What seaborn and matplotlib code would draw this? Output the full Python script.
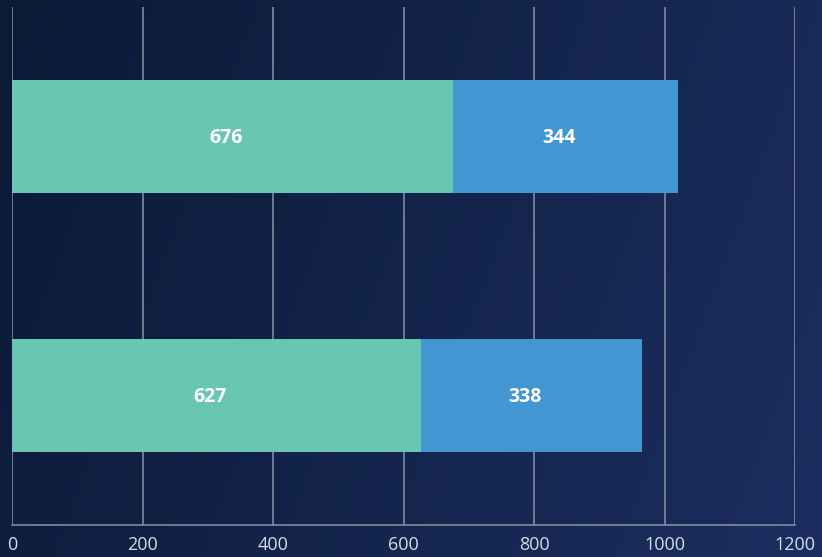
import numpy as np
import pandas as pd
import matplotlib.pyplot as plt
import matplotlib.transforms as mtrans
import seaborn as sns

# Data
categories = ['A', 'B']
first_part = [676, 627]
second_part = [344, 338]
x_ticks = [0, 200, 400, 600, 800, 1000, 1200]

green = '#69c6b3'
blue = '#4296d2'
grid_col = '#8a93a5'

sns.set_theme(style='white')
plt.rcParams['font.family'] = ['Open Sans', 'DejaVu Sans']

df = pd.DataFrame({'cat': categories, 'first': first_part, 'second': second_part})
df['total'] = df['first'] + df['second']

fig = plt.figure(figsize=(8.22, 5.57), dpi=100)

# gradient background, darker top-left, lighter bottom-right
bg = fig.add_axes([0, 0, 1, 1], zorder=-10)
xx, yy = np.meshgrid(np.linspace(0, 1, 200), np.linspace(0, 1, 200))
t = xx * 0.8 + (1 - yy) * 0.2
c0 = np.array([11, 26, 54]) / 255
c1 = np.array([28, 46, 96]) / 255
img = c0[None, None, :] * (1 - t[..., None]) + c1[None, None, :] * t[..., None]
bg.imshow(img, aspect='auto', extent=[0, 1, 0, 1], origin='lower')
bg.axis('off')

ax = fig.add_axes([12 / 822, 32 / 557, 783 / 822, 518 / 557])
ax.patch.set_alpha(0)

# stacked bars: total first (blue), then first part on top (green)
sns.barplot(data=df, x='total', y='cat', color=blue, width=0.44, saturation=1,
            linewidth=0, ax=ax)
sns.barplot(data=df, x='first', y='cat', color=green, width=0.44, saturation=1,
            linewidth=0, ax=ax)

shift = mtrans.offset_copy(ax.transData, fig=fig, x=-6, y=-2, units='dots')
for i, row in df.iterrows():
    ax.text(row['first'] / 2, i, str(row['first']), ha='center', va='center',
            color='white', fontsize=14, fontweight='bold', transform=shift)
    ax.text(row['first'] + row['second'] / 2, i, str(row['second']), ha='center',
            va='center', color='white', fontsize=14, fontweight='bold', transform=shift)

ax.set_xlim(0, 1200)
ax.set_ylim(1.5, -0.5)
ax.set_xticks(x_ticks)
ax.set_xticklabels([str(v) for v in x_ticks])
ax.set_yticks([])
ax.set_xlabel('')
ax.set_ylabel('')
ax.tick_params(axis='x', length=0, pad=8, labelsize=13, labelcolor='#d6dae2')

ax.set_axisbelow(True)
ax.grid(axis='x', color=grid_col, linewidth=1.1)
for s in ['top', 'right', 'left']:
    ax.spines[s].set_visible(False)
ax.spines['bottom'].set_color(grid_col)
ax.spines['bottom'].set_linewidth(1.1)

fig.savefig('out.png', dpi=100)
